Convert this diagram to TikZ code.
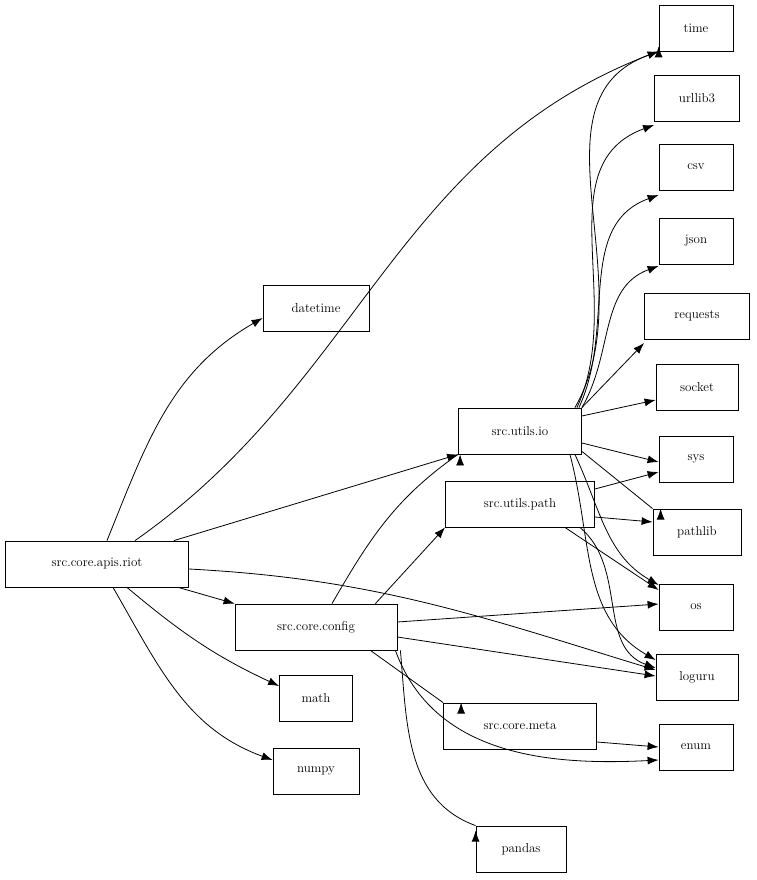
\documentclass[tikz,border=0pt]{standalone}
\usetikzlibrary{arrows.meta}
\begin{document}
\begin{tikzpicture}[x=1pt,y=-1pt,
  box/.style={draw,thick,minimum height=46pt,inner xsep=7pt,font=\fontsize{13}{15}\selectfont},
  e/.style={draw,-{Latex[length=11pt,width=8pt]},line width=0.8pt}]
\useasboundingbox (0,0) rectangle (756,880);
\node[box,minimum width=74pt] (time) at (696,28) {time};
\node[box,minimum width=85pt] (urllib3) at (697,98) {urllib3};
\node[box,minimum width=74pt] (csv) at (696,167) {csv};
\node[box,minimum width=74pt] (json) at (696,241) {json};
\node[box,minimum width=105pt] (requests) at (697,316) {requests};
\node[box,minimum width=82pt] (socket) at (697,387) {socket};
\node[box,minimum width=74pt] (sys) at (696,459) {sys};
\node[box,minimum width=88pt] (pathlib) at (697,532) {pathlib};
\node[box,minimum width=74pt] (os) at (696,607) {os};
\node[box,minimum width=82pt] (loguru) at (697,677) {loguru};
\node[box,minimum width=74pt] (enum) at (696,747) {enum};
\node[box,minimum width=90pt] (pandas) at (521,849) {pandas};
\node[box,minimum width=86pt] (numpy) at (316,771) {numpy};
\node[box,minimum width=73pt] (math) at (316,698) {math};
\node[box,minimum width=106pt] (datetime) at (316,308) {datetime};
\node[box,minimum width=183pt] (riot) at (97,564) {src.core.apis.riot};
\node[box,minimum width=162pt] (config) at (316,627) {src.core.config};
\node[box,minimum width=123pt] (io) at (520,431) {src.utils.io};
\node[box,minimum width=149pt] (path) at (520,504) {src.utils.path};
\node[box,minimum width=153pt] (meta) at (520,726) {src.core.meta};

\path[e] (riot.north) ++(10,0) to[out=68,in=210] (datetime.west|-0,318);
\path[e] (riot.north) ++(38,0) to[out=35,in=200] (time.south west) ++(0,-5);
\path[e] (riot.north east) ++(-15,0) -- (io.south west);
\path[e] (riot) -- (config);
\path[e] (riot.east) ++(0,5) to[out=-3,in=163] (loguru.west|-0,670);
\path[e] (riot.south) ++(30,0) to[out=-40,in=155] (math.west|-0,686);
\path[e] (riot.south) ++(16,0) to[out=-60,in=160] (numpy.west|-0,760);

\path[e] (config.north) ++(16,0) to[out=60,in=215] (io.south west) ++(2,0);
\path[e] (config.north east) ++(-22,0) -- (path.south west);
\path[e] (config.east) ++(0,-5) -- (os.west|-0,604);
\path[e] (config.east) ++(0,10) -- (loguru.west|-0,676);
\path[e] (config.south east) ++(-27,0) -- (meta.north west) ++(18,0);
\path[e] (config.south east) ++(-2,0) to[out=-70,in=183] (enum.west|-0,760);
\path[e] (config.south east) ++(3,0) to[out=-85,in=160] (pandas.north west) ++(0,5);

\path[e] (io.north east) ++(-7,0) to[out=60,in=200] (time.south west);
\path[e] (io.north east) ++(-5,0) to[out=65,in=200] (urllib3.west|-0,125);
\path[e] (io.north east) ++(-3,0) to[out=65,in=200] (csv.west|-0,195);
\path[e] (io.north east) to[out=60,in=200] (json.west|-0,266);
\path[e] (io.north east) -- (requests.west|-0,343);
\path[e] (io.east) ++(0,-15) -- (socket.west|-0,400);
\path[e] (io.east) ++(0,12) -- (sys.west|-0,462);
\path[e] (io.south east) ++(0,-3) -- (pathlib.north west) ++(8,0);
\path[e] (io.south east) ++(-7,0) to[out=-65,in=150] (os.west|-0,585);
\path[e] (io.south east) ++(-12,0) to[out=-75,in=150] (loguru.west|-0,660);

\path[e] (path.east) ++(0,-15) -- (sys.west|-0,472);
\path[e] (path.east) ++(0,13) -- (pathlib.west|-0,522);
\path[e] (path.south east) ++(-30,0) -- (os.west|-0,590);
\path[e] (path.south east) ++(-15,0) to[out=-40,in=160] (loguru.west|-0,668);
\path[e] (meta.east) ++(0,16) -- (enum.west|-0,747);
\end{tikzpicture}
\end{document}
